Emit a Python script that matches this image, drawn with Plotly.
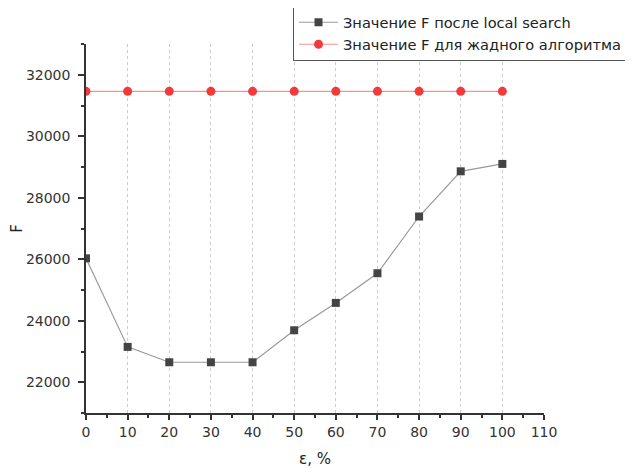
import plotly.graph_objects as go

eps = [0, 10, 20, 30, 40, 50, 60, 70, 80, 90, 100]
f_local = [26030, 23150, 22650, 22650, 22650, 23690, 24580, 25545, 27390, 28860, 29100]
f_greedy = [31460] * 11
name_local = "Значение F после local search"
name_greedy = "Значение F для жадного алгоритма"

FONT = "DejaVu Sans, Liberation Sans, Arial, sans-serif"

fig = go.Figure()
fig.add_trace(go.Scatter(
    x=eps, y=f_local, name=name_local, mode="lines+markers",
    line=dict(color="#9a9a9a", width=1.2),
    marker=dict(symbol="square", size=8, color="#444444"),
))
fig.add_trace(go.Scatter(
    x=eps, y=f_greedy, name=name_greedy, mode="lines+markers",
    line=dict(color="#ff8f8f", width=1.2),
    marker=dict(symbol="circle", size=9, color="#f23a3a"),
))

# the page body has an 8px margin, so the figure is sized/offset to compensate
fig.update_layout(
    width=625, height=460,
    margin=dict(l=78, r=89, t=36, b=55, autoexpand=False),
    paper_bgcolor="white", plot_bgcolor="white",
    font=dict(family=FONT, size=14, color="#333333"),
    showlegend=True,
    legend=dict(
        x=0.452, y=1.105, xanchor="left", yanchor="top",
        bordercolor="#555555", borderwidth=1, bgcolor="white",
        font=dict(family=FONT, size=14.6, color="#222222"),
        tracegroupgap=0, itemwidth=39,
    ),
)
fig.update_xaxes(
    range=[0, 110], tickmode="linear", tick0=0, dtick=10,
    showline=True, linecolor="#333333", linewidth=1.5,
    ticks="outside", ticklen=5, tickwidth=1.5, tickcolor="#333333",
    minor=dict(dtick=5, ticks="outside", ticklen=3, tickwidth=1.5, tickcolor="#333333", showgrid=False),
    showgrid=True, gridcolor="#cccccc", griddash="dot", gridwidth=1,
    zeroline=False, automargin=False,
    title=dict(text="ε, %", font=dict(size=15, color="#222222"), standoff=23),
    tickfont=dict(size=14, color="#333333"),
)
fig.update_yaxes(
    range=[21000, 33000], tickmode="linear", tick0=22000, dtick=2000, tickformat="d",
    showline=True, linecolor="#333333", linewidth=1.5,
    ticks="outside", ticklen=6, tickwidth=1.5, tickcolor="#333333", ticklabelstandoff=5,
    minor=dict(dtick=1000, ticks="outside", ticklen=3, tickwidth=1.5, tickcolor="#333333", showgrid=False),
    showgrid=False, zeroline=False, automargin=False,
    title=dict(text="F", font=dict(size=15, color="#222222"), standoff=8),
    tickfont=dict(size=14, color="#333333"),
)

fig.write_html("out.html")
